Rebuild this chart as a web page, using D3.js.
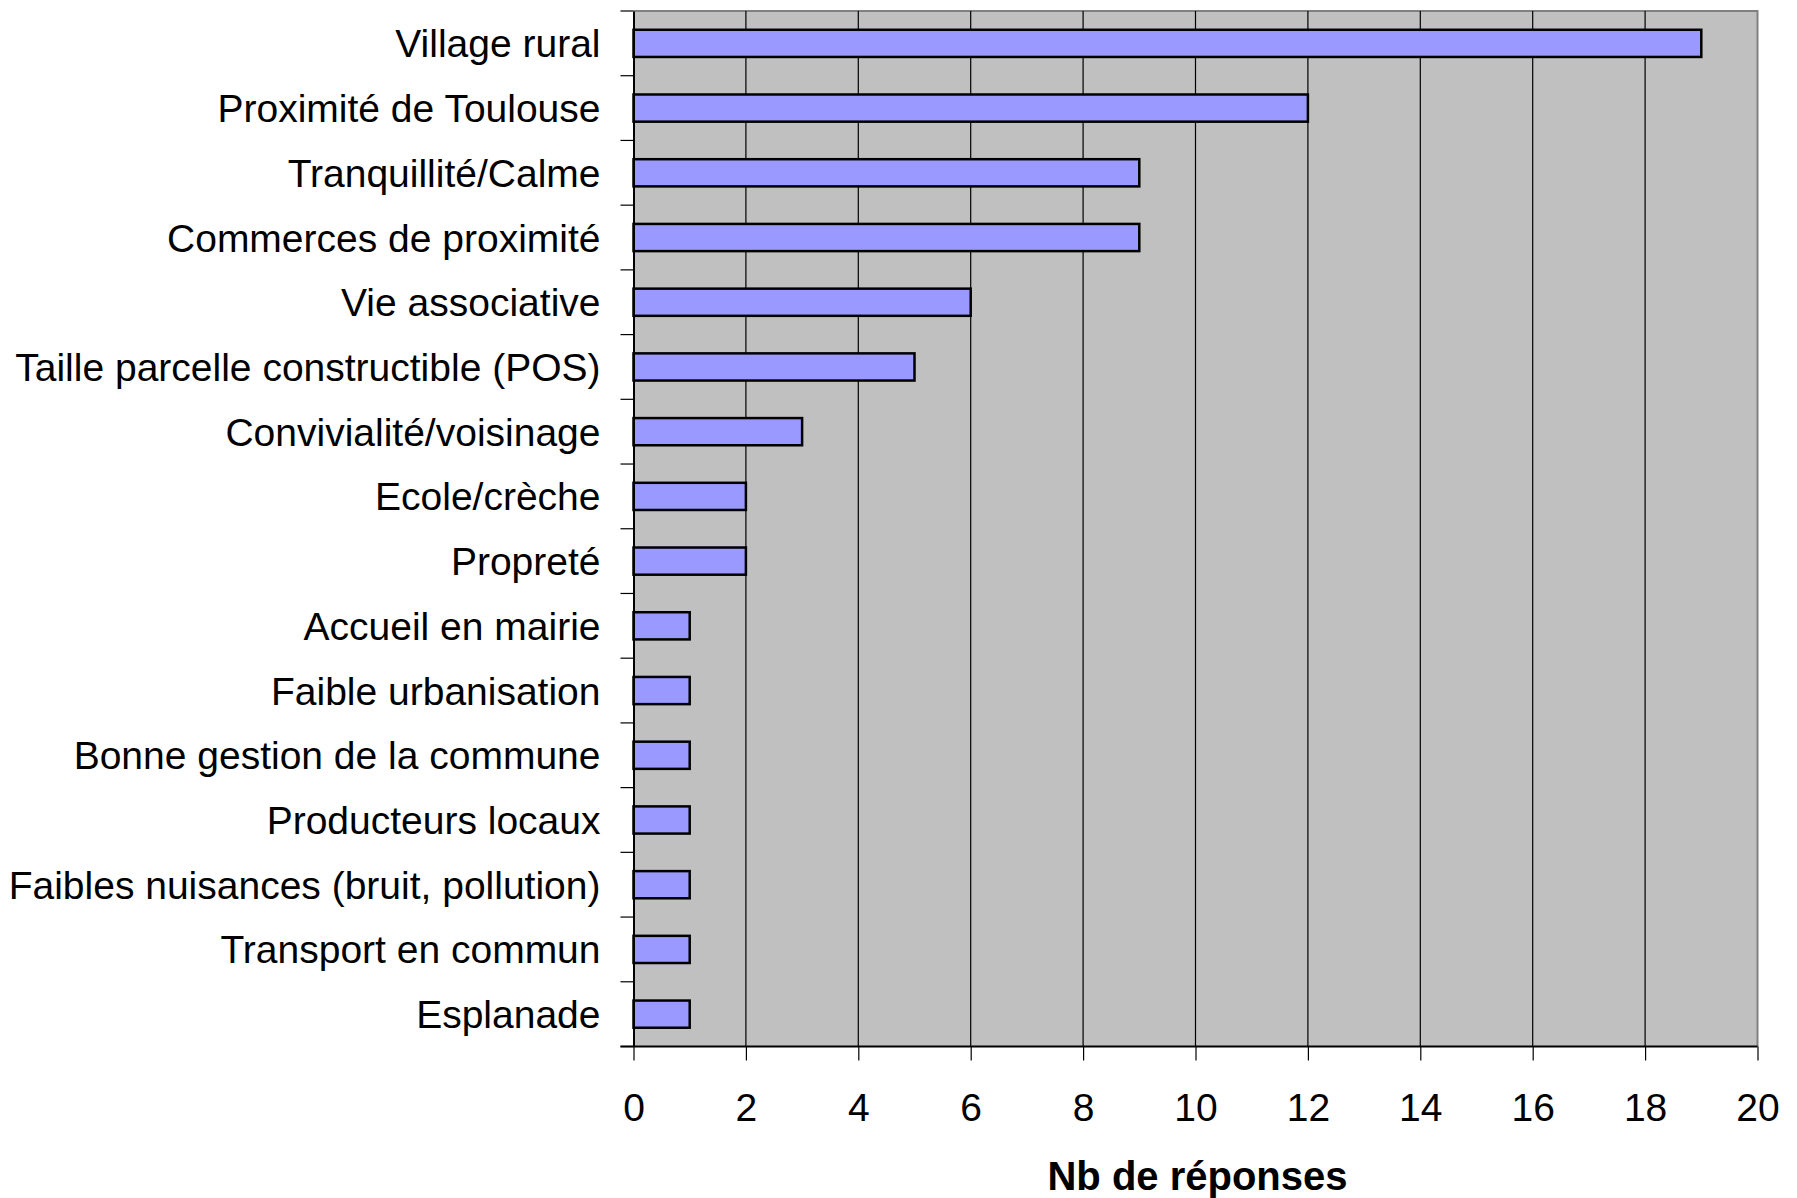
<!DOCTYPE html>
<html><head><meta charset="utf-8">
<script src="https://cdn.jsdelivr.net/npm/d3@7"></script>
<style>body{margin:0;background:#fff}svg{display:block}</style>
</head><body>
<script>
const categories = ["Village rural","Proximité de Toulouse","Tranquillité/Calme","Commerces de proximité","Vie associative","Taille parcelle constructible (POS)","Convivialité/voisinage","Ecole/crèche","Propreté","Accueil en mairie","Faible urbanisation","Bonne gestion de la commune","Producteurs locaux","Faibles nuisances (bruit, pollution)","Transport en commun","Esplanade"];
const values = [19,12,9,9,6,5,3,2,2,1,1,1,1,1,1,1];
const xTicks = [0,2,4,6,8,10,12,14,16,18,20];
const xTitle = "Nb de réponses";

const W = 1797, H = 1198;
const L = 633.5, R = 1757.5, T = 11, B = 1046.5;
const font = "'Liberation Sans', Arial, sans-serif";

const svg = d3.select("body").append("svg").attr("width", W).attr("height", H);
const x = d3.scaleLinear().domain([0,20]).range([L,R]);
const y = d3.scaleBand().domain(categories).range([T,B]).paddingInner(0.58).paddingOuter(0.29);
const yb = d3.scaleBand().domain(categories).range([T,B]);

svg.append("rect").attr("x",L).attr("y",T).attr("width",R-L).attr("height",B-T).attr("fill","#c0c0c0");
svg.append("path").attr("d",`M${L},${T}H${R}V${B}`).attr("fill","none").attr("stroke","#808080").attr("stroke-width",2);
svg.append("g").selectAll("line").data(xTicks.filter(d=>d>0 && d<20)).join("line")
  .attr("x1",d=>x(d)).attr("x2",d=>x(d)).attr("y1",T).attr("y2",B)
  .attr("stroke","#000").attr("stroke-width",1.2);
svg.append("g").selectAll("rect").data(categories).join("rect")
  .attr("x",x(0)).attr("y",d=>y(d)).attr("width",(d,i)=>x(values[i])-x(0)).attr("height",y.bandwidth())
  .attr("fill","#9999ff").attr("stroke","#000").attr("stroke-width",2.5);

const yAxis = d3.axisLeft(yb).tickSize(0).tickPadding(33).tickFormat(d=>d);
const gy = svg.append("g").attr("transform",`translate(${L},0)`).call(yAxis);
gy.select(".domain").attr("stroke","#000").attr("stroke-width",2);
gy.selectAll("text").attr("font-family",font).attr("font-size",39).attr("fill","#000").attr("dy","0.36em");
svg.append("g").selectAll("line").data(d3.range(categories.length+1)).join("line")
  .attr("x1",L-13).attr("x2",L).attr("y1",i=>T+i*yb.step()).attr("y2",i=>T+i*yb.step())
  .attr("stroke","#000").attr("stroke-width",1.2);

const xAxis = d3.axisBottom(x).tickValues(xTicks).tickSize(14).tickPadding(33).tickFormat(d3.format("d"));
const gx = svg.append("g").attr("transform",`translate(0,${B})`).call(xAxis);
gx.select(".domain").attr("stroke","#000").attr("stroke-width",2).attr("d",`M${L-13},0H${R}`);
gx.selectAll(".tick line").attr("stroke","#000").attr("stroke-width",1.2);
gx.selectAll("text").attr("font-family",font).attr("font-size",39).attr("fill","#000");

svg.append("text").attr("x",(L+R)/2+2).attr("y",1190).attr("text-anchor","middle")
  .attr("font-family",font).attr("font-size",40).attr("font-weight","bold").text(xTitle);
</script>
</body></html>
